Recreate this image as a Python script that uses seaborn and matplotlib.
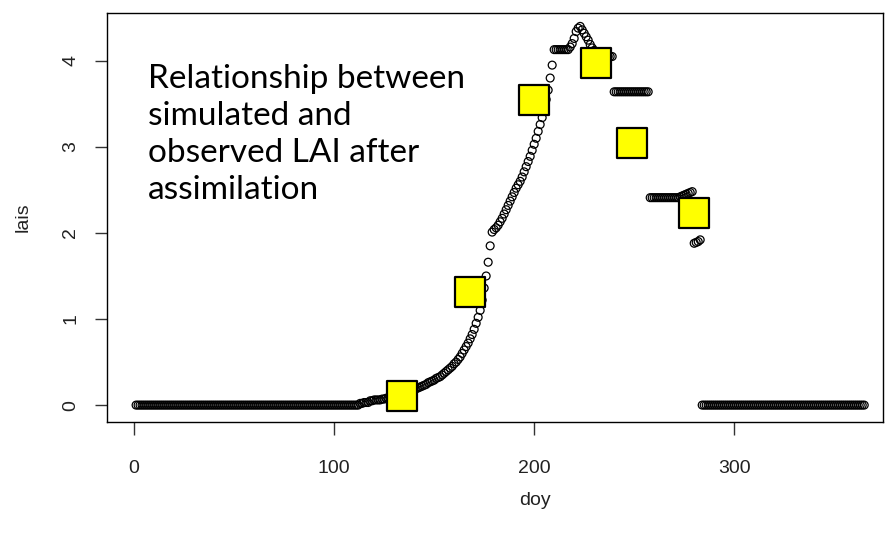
import seaborn as sns
import pandas as pd
import matplotlib
matplotlib.use("Agg")
import matplotlib.pyplot as plt

# simulated LAI, one value per day (doy 1..365)
lai_winter = [0.0] * 112
lai_emergence = [0.02, 0.02, 0.03, 0.03, 0.03,
                 0.05, 0.05, 0.06, 0.06, 0.06, 0.06, 0.07, 0.07,
                 0.08, 0.08, 0.09, 0.09, 0.10, 0.10, 0.11, 0.11, 0.12,
                 0.13, 0.14, 0.15, 0.16, 0.17, 0.18, 0.19, 0.20,
                 0.21, 0.22, 0.23, 0.24, 0.26, 0.27, 0.28, 0.29, 0.31, 0.32, 0.33,
                 0.35, 0.37, 0.39, 0.41, 0.43, 0.45, 0.48, 0.50, 0.53, 0.56,
                 0.60, 0.64, 0.68, 0.72, 0.77, 0.82, 0.88]
lai_growth = [0.95, 1.02, 1.10, 1.22, 1.36, 1.50, 1.66, 1.85, 2.01, 2.04,
              2.06, 2.09, 2.13, 2.17, 2.22, 2.27,
              2.32, 2.37, 2.42, 2.47, 2.52, 2.56, 2.60, 2.65, 2.71, 2.77, 2.83, 2.89,
              2.96, 3.03, 3.10, 3.18, 3.26, 3.34, 3.44, 3.55,
              3.66, 3.80, 3.95]
lai_peak = [4.13] * 8 + [4.16, 4.20, 4.26, 4.34, 4.38, 4.40,
                         4.36, 4.32, 4.28, 4.24, 4.19,
                         4.15, 4.12, 4.10, 4.08, 4.07, 4.06, 4.05, 4.05, 4.05, 4.05, 4.05]
lai_senescence = [3.64] * 18 + [2.41] * 15 + [2.42, 2.43, 2.44, 2.45, 2.46, 2.47, 2.48] \
    + [1.88, 1.89, 1.90, 1.92]
lai_harvest = [0.0] * 82

lais = lai_winter + lai_emergence + lai_growth + lai_peak + lai_senescence + lai_harvest
doy = list(range(1, len(lais) + 1))

# observed LAI
obs_doy = [134, 168, 200, 231, 249, 280]
obs_lai = [0.11, 1.31, 3.55, 3.97, 3.05, 2.23]

sim = pd.DataFrame({'doy': doy, 'lais': lais})
obs = pd.DataFrame({'doy': obs_doy, 'lais': obs_lai})

sns.set_style("ticks")
plt.rcParams['font.family'] = ['Liberation Sans', 'DejaVu Sans']

fig = plt.figure(figsize=(8.85, 5.33), dpi=100)
ax = fig.add_axes([0.121, 0.208, 0.877, 0.768])

sns.scatterplot(data=sim, x='doy', y='lais', ax=ax, marker='o', s=32,
                facecolor='none', edgecolor='black', linewidth=0.9, zorder=2)
sns.scatterplot(data=obs, x='doy', y='lais', ax=ax, marker='s', s=480,
                color='#ffff00', edgecolor='black', linewidth=1.6, zorder=3)

ax.set_xlim(-13.5, 374.5)
ax.set_ylim(-0.198, 4.558)
ax.set_xticks([0, 100, 200, 300])
ax.set_yticks([0, 1, 2, 3, 4])
ax.tick_params(axis='both', length=9, width=1, color='#333333',
               labelsize=14, labelcolor='#222222')
ax.tick_params(axis='x', pad=18)
ax.tick_params(axis='y', pad=11)
plt.setp(ax.get_yticklabels(), rotation=90, va='center')
for sp in ax.spines.values():
    sp.set_color('black')
    sp.set_linewidth(1)

ax.set_xlabel("doy", fontsize=14, color='#222222')
ax.set_ylabel("lais", fontsize=14, color='#222222')
ax.xaxis.set_label_coords(0.551, -0.17)
ax.yaxis.set_label_coords(-0.097, 0.5)

ax.text(0.053, 0.875, "Relationship between\nsimulated and\nobserved LAI after\nassimilation",
        transform=ax.transAxes, fontsize=24, family=['Lato', 'DejaVu Sans'],
        va='top', ha='left', linespacing=1.29, color='black')

fig.savefig("out.png", dpi=100)
